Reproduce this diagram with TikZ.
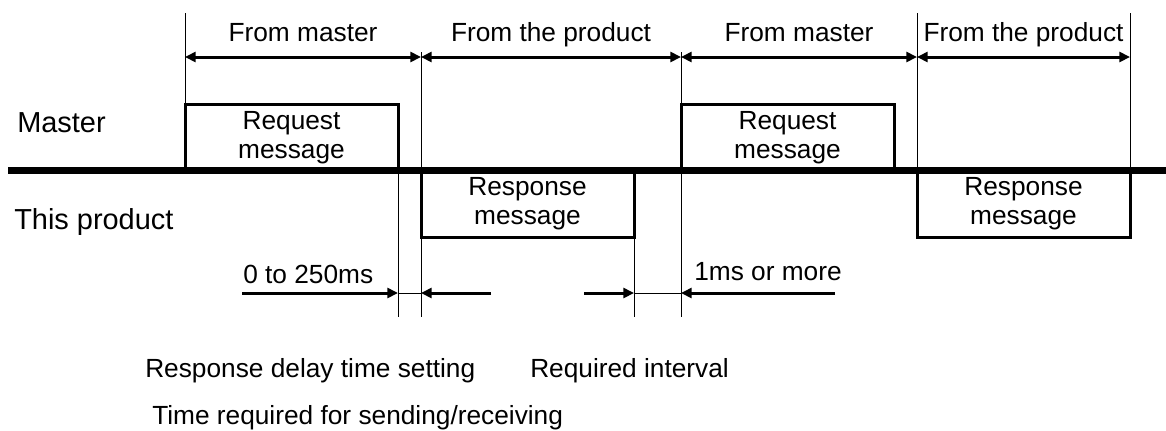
\documentclass[tikz,border=0pt]{standalone}
\usepackage{fontspec}
\setmainfont{Liberation Sans}
\usetikzlibrary{arrows.meta,positioning}

\begin{document}
\begin{tikzpicture}[x=0.75pt, y=-0.75pt,
font=\fontsize{19.7}{21.75}\selectfont,
msg/.style={draw, line width=2.25pt, minimum width=159.75pt, minimum height=50.25pt,
inner sep=0pt, outer sep=0pt, align=center},
tick/.style={line width=0.75pt},
span/.style={line width=2.25pt, {Triangle[length=8pt,width=7.5pt]}-{Triangle[length=8pt,width=7.5pt]}},
dimarr/.style={line width=2.25pt, -{Triangle[length=8pt,width=7.5pt]}},
spanlbl/.style={anchor=base, inner sep=0pt, yshift=12pt},
lbl/.style={inner sep=0pt, anchor=base west},
side/.style={lbl, font=\fontsize{21.7}{26}\selectfont}]
\useasboundingbox (0,0) rectangle (1166,430);
\coordinate (hi) at (0,13);
\coordinate (mid) at (0,52);
\coordinate (arr) at (0,57);
\coordinate (dim) at (0,293);
\coordinate (lo) at (0,317);
\coordinate (sig-l) at (8,170);
\coordinate (sig-r) at (1166,170);
\coordinate (s1) at (242,293);
\coordinate (s2) at (491,293);
\coordinate (s3) at (584,293);
\coordinate (s4) at (835,293);

\node[msg] (req1) at (291.5,137.5) {Request\\message};
\node[msg] (res1) at (527.5,203.5) {Response\\message};
\node[msg] (req2) at (787.5,137.5) {Request\\message};
\node[msg] (res2) at (1023.5,203.5) {Response\\message};
\draw[line width=5.25pt] (sig-l) -- (sig-r);

\node[side] (master) at (17,132) {Master};
\node[side] (product) at (14,229) {This product};

\draw[tick] (req1.north west) -- (req1.north west |- hi)
(req1.south east) -- (req1.south east |- lo)
(res1.north west |- mid) -- (res1.north west |- lo)
(res1.south east) -- (res1.south east |- lo)
(req2.north west |- mid) -- (req2.north west |- lo)
(res2.north west) -- (res2.north west |- hi)
(res2.north east) -- (res2.north east |- hi)
(req1.south east |- dim) -- (res1.north west |- dim)
(res1.south east |- dim) -- (req2.north west |- dim);

\path[span]
(req1.north west |- arr) edge node[spanlbl]{From master} (res1.north west |- arr)
(res1.north west |- arr) edge node[spanlbl]{From the product} (req2.north west |- arr)
(req2.north west |- arr) edge node[spanlbl]{From master} (res2.north west |- arr)
(res2.north west |- arr) edge node[spanlbl]{From the product} (res2.north east |- arr);

\path[dimarr]
(s1) edge (req1.south east |- dim)
(s2) edge (res1.north west |- dim)
(s3) edge (res1.south east |- dim)
(s4) edge (req2.north west |- dim);

\node[lbl] (delay) at (243,283) {0 to 250ms};
\node[lbl] (gap) at (694,280) {1ms or more};
\node[lbl] (delay-cap) at (145,377) {Response delay time setting};
\node[lbl] (gap-cap) at (530,377) {Required interval};
\node[lbl] (send-cap) at (152,424) {Time required for sending/receiving};
\end{tikzpicture}
\end{document}
